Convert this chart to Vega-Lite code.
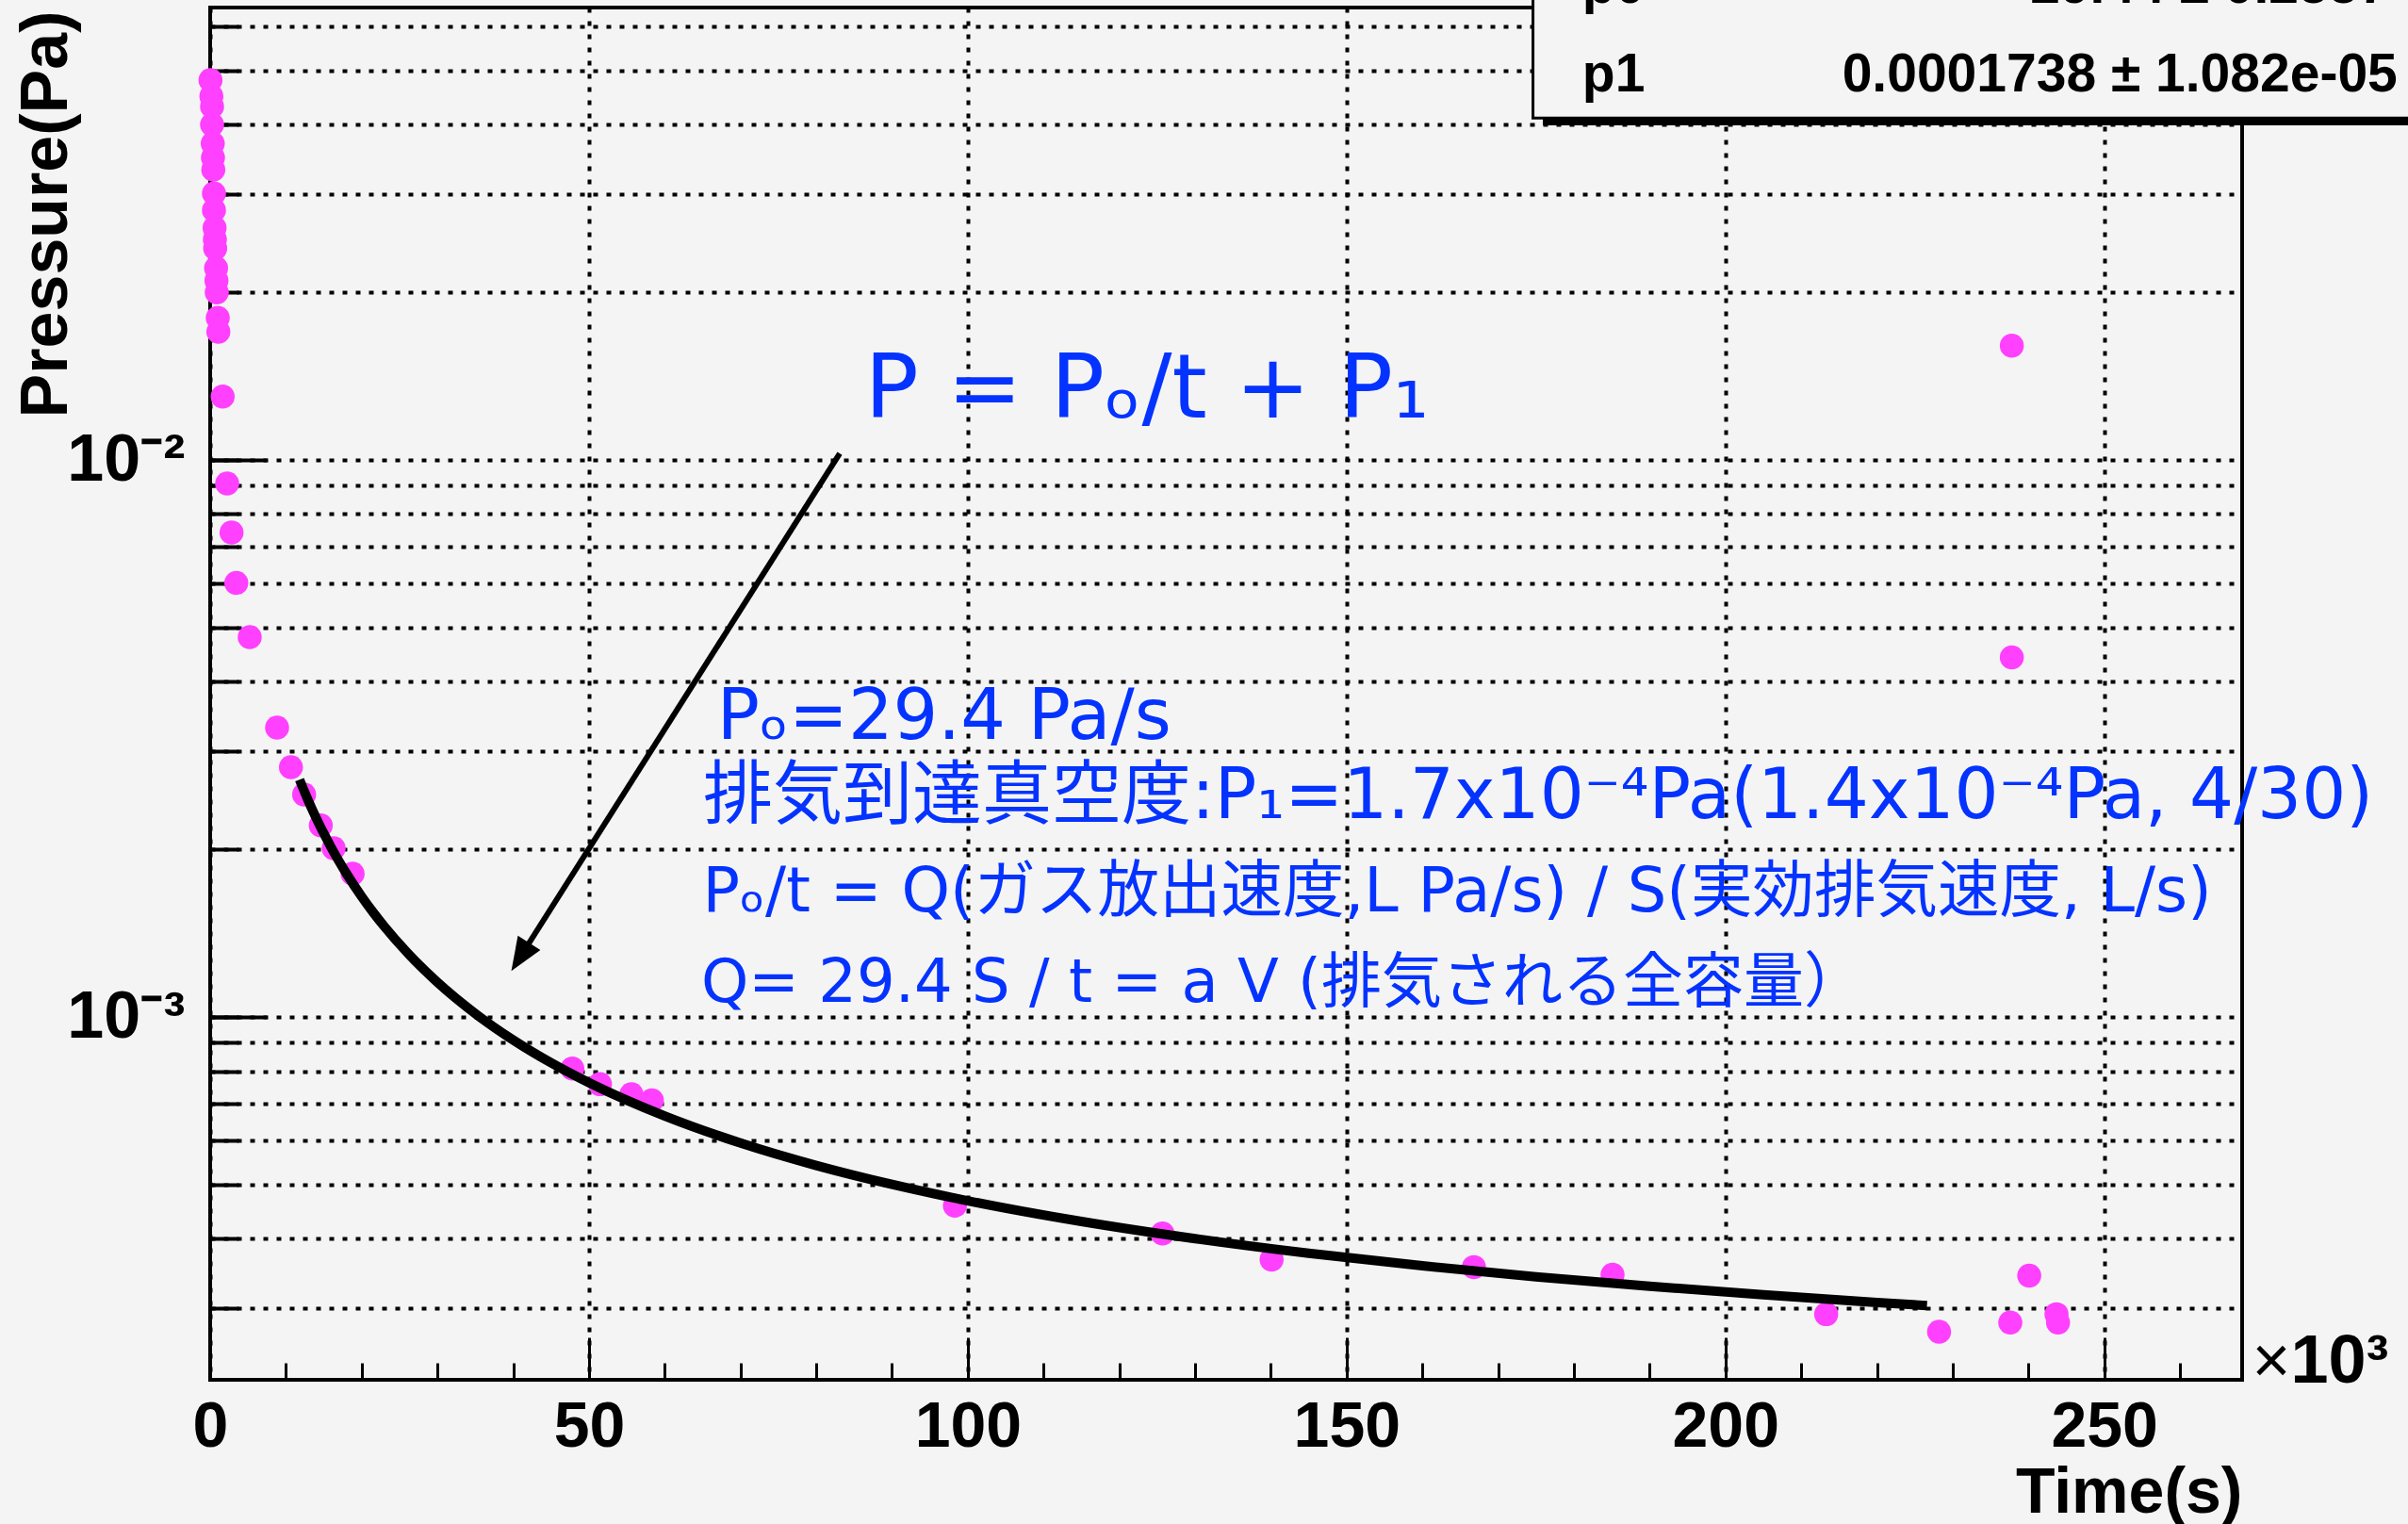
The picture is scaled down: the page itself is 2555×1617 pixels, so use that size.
{
  "$schema": "https://vega.github.io/schema/vega-lite/v6.json",
  "width": 2156,
  "height": 1456,
  "autosize": {"type": "none"},
  "padding": {"left": 223, "top": 8, "right": 176, "bottom": 153},
  "background": "#f4f4f4",
  "config": {
    "view": {"stroke": "#000000", "strokeWidth": 4},
    "axis": {"labelColor": "#000000", "tickColor": "#000000", "titleColor": "#000000", "gridColor": "#000000", "gridOpacity": 1}
  },
  "datasets": {
    "points": [
      {"t": 40, "p": 0.0481}, {"t": 160, "p": 0.0450}, {"t": 250, "p": 0.0431}, {"t": 250, "p": 0.0400},
      {"t": 340, "p": 0.0370}, {"t": 370, "p": 0.0349}, {"t": 410, "p": 0.0332}, {"t": 500, "p": 0.0301},
      {"t": 500, "p": 0.0281}, {"t": 580, "p": 0.0261}, {"t": 620, "p": 0.0249}, {"t": 660, "p": 0.0240},
      {"t": 780, "p": 0.0221}, {"t": 830, "p": 0.0210}, {"t": 870, "p": 0.0200}, {"t": 1000, "p": 0.0180},
      {"t": 1080, "p": 0.0170}, {"t": 1650, "p": 0.0130},
      {"t": 2240, "p": 0.00908}, {"t": 2820, "p": 0.00741}, {"t": 3450, "p": 0.00602}, {"t": 5220, "p": 0.00481},
      {"t": 8830, "p": 0.00331}, {"t": 10660, "p": 0.00281}, {"t": 12400, "p": 0.00251}, {"t": 14600, "p": 0.00221},
      {"t": 16300, "p": 0.00201}, {"t": 18800, "p": 0.00181},
      {"t": 47800, "p": 0.000809}, {"t": 51450, "p": 0.000758}, {"t": 55600, "p": 0.000727}, {"t": 58300, "p": 0.000709},
      {"t": 98300, "p": 0.000459}, {"t": 125700, "p": 0.000409}, {"t": 140100, "p": 0.000367}, {"t": 166800, "p": 0.000356},
      {"t": 185100, "p": 0.000345}, {"t": 213300, "p": 0.000293}, {"t": 228200, "p": 0.0002725}, {"t": 237600, "p": 0.000283},
      {"t": 240100, "p": 0.0003435}, {"t": 243700, "p": 0.000293}, {"t": 243900, "p": 0.000283},
      {"t": 237800, "p": 0.01604}, {"t": 237800, "p": 0.004422}
    ],
    "fit": [
      {"t": 11800, "p": 0.0026687}, {"t": 12500, "p": 0.002529}, {"t": 13000, "p": 0.0024384}, {"t": 14000, "p": 0.0022767},
      {"t": 15000, "p": 0.0021365}, {"t": 16000, "p": 0.0020138}, {"t": 17000, "p": 0.0019056}, {"t": 18000, "p": 0.0018094},
      {"t": 20000, "p": 0.0016458}, {"t": 21500, "p": 0.0015431}, {"t": 23000, "p": 0.0014538}, {"t": 26000, "p": 0.0013061},
      {"t": 30000, "p": 0.0011551}, {"t": 35000, "p": 0.0010149}, {"t": 40000, "p": 0.0009098}, {"t": 45000, "p": 0.000828},
      {"t": 50000, "p": 0.0007626}, {"t": 60000, "p": 0.0006645}, {"t": 70000, "p": 0.0005944}, {"t": 80000, "p": 0.0005418},
      {"t": 90000, "p": 0.0005009}, {"t": 100000, "p": 0.0004682}, {"t": 115000, "p": 0.0004298}, {"t": 130000, "p": 0.0004003},
      {"t": 145000, "p": 0.0003768}, {"t": 160000, "p": 0.0003578}, {"t": 175000, "p": 0.000342}, {"t": 190000, "p": 0.0003288},
      {"t": 205000, "p": 0.0003174}, {"t": 220000, "p": 0.0003076}, {"t": 226600, "p": 0.0003037}
    ],
    "anchor": [{}]
  },
  "resolve": {"axis": {"x": "independent", "y": "independent"}},
  "layer": [
    {
      "data": {"name": "points"},
      "mark": {"type": "circle", "size": 650, "color": "#ff40ff", "opacity": 1},
      "encoding": {
        "x": {
          "field": "t", "type": "quantitative",
          "scale": {"type": "linear", "domain": [0, 268200], "nice": false, "zero": false},
          "axis": {
            "orient": "bottom", "values": [0, 50000, 100000, 150000, 200000, 250000],
            "labelExpr": "format(datum.value / 1000, 'd')",
            "ticks": false, "domain": false,
            "grid": true, "gridDash": [5, 9], "gridWidth": 4,
            "labelFont": "Liberation Sans", "labelFontWeight": "bold", "labelFontSize": 68,
            "labelPadding": 16, "labelFlush": false, "labelOverlap": false,
            "title": "Time(s)", "titleFont": "Liberation Sans", "titleFontWeight": "bold", "titleFontSize": 68,
            "titleAnchor": "end", "titleAlign": "right", "titleBaseline": "alphabetic", "titleX": 2156, "titleY": 140
          }
        },
        "y": {
          "field": "p", "type": "quantitative",
          "scale": {"type": "log", "domain": [0.0002234, 0.0649], "nice": false},
          "axis": {
            "orient": "left", "values": [0.001, 0.01],
            "labelExpr": "datum.value < 0.005 ? '10⁻³' : '10⁻²'",
            "ticks": false, "domain": false, "grid": false,
            "labelFont": "Liberation Sans", "labelFontWeight": "bold", "labelFontSize": 70,
            "labelPadding": 27, "labelAlign": "right", "labelBaseline": "middle", "labelOverlap": false,
            "title": "Pressure(Pa)", "titleFont": "Liberation Sans", "titleFontWeight": "bold", "titleFontSize": 70,
            "titleAngle": 270, "titleAlign": "right", "titleBaseline": "alphabetic", "titleX": -153, "titleY": 3
          }
        }
      }
    },
    {
      "data": {"name": "fit"},
      "mark": {"type": "line", "color": "#000000", "strokeWidth": 10, "interpolate": "monotone", "strokeCap": "butt"},
      "encoding": {
        "x": {
          "field": "t", "type": "quantitative",
          "scale": {"type": "linear", "domain": [0, 268200], "nice": false, "zero": false},
          "axis": {
            "orient": "bottom", "values": [0, 50000, 100000, 150000, 200000, 250000],
            "labels": false, "domain": false, "grid": false,
            "ticks": true, "tickSize": -45, "tickWidth": 3, "title": null
          }
        },
        "y": {
          "field": "p", "type": "quantitative",
          "scale": {"type": "log", "domain": [0.0002234, 0.0649], "nice": false},
          "axis": {
            "orient": "left",
            "values": [0.0003, 0.0004, 0.0005, 0.0006, 0.0007, 0.0008, 0.0009, 0.001, 0.002, 0.003, 0.004, 0.005, 0.006, 0.007, 0.008, 0.009, 0.01, 0.02, 0.03, 0.04, 0.05, 0.06],
            "labels": false, "domain": false,
            "grid": true, "gridDash": [5, 9], "gridWidth": 4,
            "ticks": true, "tickSize": -30, "tickWidth": 4, "title": null
          }
        }
      }
    },
    {
      "data": {"name": "anchor"},
      "mark": {"type": "rule", "color": "#000000", "strokeWidth": 6},
      "encoding": {
        "x": {
          "datum": 83100, "type": "quantitative",
          "scale": {"type": "linear", "domain": [0, 268200], "nice": false, "zero": false},
          "axis": {
            "orient": "bottom",
            "values": [10000, 20000, 30000, 40000, 60000, 70000, 80000, 90000, 110000, 120000, 130000, 140000, 160000, 170000, 180000, 190000, 210000, 220000, 230000, 240000, 260000],
            "labels": false, "domain": false, "grid": false,
            "ticks": true, "tickSize": -18, "tickWidth": 3, "title": null
          }
        },
        "y": {
          "datum": 0.01028, "type": "quantitative",
          "scale": {"type": "log", "domain": [0.0002234, 0.0649], "nice": false},
          "axis": {
            "orient": "left", "values": [0.001, 0.01],
            "labels": false, "domain": false, "grid": false,
            "ticks": true, "tickSize": -60, "tickWidth": 4, "title": null
          }
        },
        "x2": {"datum": 40750},
        "y2": {"datum": 0.0012718}
      }
    },
    {
      "data": {"name": "anchor"},
      "mark": {"type": "point", "shape": "M0,0L0.4,1L-0.4,1Z", "size": 5000, "angle": 212.3, "filled": true, "color": "#000000", "opacity": 1},
      "encoding": {
        "x": {"datum": 39750, "type": "quantitative", "axis": null},
        "y": {"datum": 0.00121, "type": "quantitative", "axis": null}
      }
    },
    {
      "data": {"name": "anchor"},
      "mark": {"type": "text", "text": "P = Pₒ/t + P₁", "font": "'DejaVu Sans', 'Noto Sans CJK JP'", "fontSize": 95, "color": "#0433ff", "align": "left", "baseline": "alphabetic"},
      "encoding": {
        "x": {"datum": 86400, "type": "quantitative", "axis": null},
        "y": {"datum": 0.011917, "type": "quantitative", "axis": null}
      }
    },
    {
      "data": {"name": "anchor"},
      "mark": {"type": "text", "text": "Pₒ=29.4 Pa/s", "font": "'DejaVu Sans', 'Noto Sans CJK JP'", "fontSize": 75, "color": "#0433ff", "align": "left", "baseline": "alphabetic"},
      "encoding": {
        "x": {"datum": 66900, "type": "quantitative", "axis": null},
        "y": {"datum": 0.003157, "type": "quantitative", "axis": null}
      }
    },
    {
      "data": {"name": "anchor"},
      "mark": {"type": "text", "text": "排気到達真空度:P₁=1.7x10⁻⁴Pa(1.4x10⁻⁴Pa, 4/30)", "font": "'DejaVu Sans', 'Noto Sans CJK JP'", "fontSize": 74, "color": "#0433ff", "align": "left", "baseline": "alphabetic"},
      "encoding": {
        "x": {"datum": 65050, "type": "quantitative", "axis": null},
        "y": {"datum": 0.002275, "type": "quantitative", "axis": null}
      }
    },
    {
      "data": {"name": "anchor"},
      "mark": {"type": "text", "text": "Pₒ/t = Q(ガス放出速度,L Pa/s) / S(実効排気速度, L/s)", "font": "'DejaVu Sans', 'Noto Sans CJK JP'", "fontSize": 65.5, "color": "#0433ff", "align": "left", "baseline": "alphabetic"},
      "encoding": {
        "x": {"datum": 65000, "type": "quantitative", "axis": null},
        "y": {"datum": 0.0015467, "type": "quantitative", "axis": null}
      }
    },
    {
      "data": {"name": "anchor"},
      "mark": {"type": "text", "text": "Q= 29.4 S / t = a V (排気される全容量）", "font": "'DejaVu Sans', 'Noto Sans CJK JP'", "fontSize": 64, "color": "#0433ff", "align": "left", "baseline": "alphabetic"},
      "encoding": {
        "x": {"datum": 64800, "type": "quantitative", "axis": null},
        "y": {"datum": 0.0010644, "type": "quantitative", "axis": null}
      }
    },
    {
      "data": {"name": "anchor"},
      "mark": {"type": "rect", "color": "#000000", "opacity": 1},
      "encoding": {
        "x": {"datum": 175900, "type": "quantitative", "axis": null},
        "x2": {"datum": 300000},
        "y": {"datum": 0.5, "type": "quantitative", "axis": null},
        "y2": {"datum": 0.03988}
      }
    },
    {
      "data": {"name": "anchor"},
      "mark": {"type": "rect", "fill": "#f4f4f4", "stroke": "#000000", "strokeWidth": 3, "opacity": 1},
      "encoding": {
        "x": {"datum": 174600, "type": "quantitative", "axis": null},
        "x2": {"datum": 300000},
        "y": {"datum": 0.5, "type": "quantitative", "axis": null},
        "y2": {"datum": 0.04112}
      }
    },
    {
      "data": {"name": "anchor"},
      "mark": {"type": "text", "text": "p0", "font": "Liberation Sans", "fontWeight": "bold", "fontSize": 57, "color": "#000000", "align": "left", "baseline": "alphabetic"},
      "encoding": {
        "x": {"datum": 181100, "type": "quantitative", "axis": null},
        "y": {"datum": 0.06615, "type": "quantitative", "axis": null}
      }
    },
    {
      "data": {"name": "anchor"},
      "mark": {"type": "text", "text": "29.44 ± 0.2557", "font": "Liberation Sans", "fontWeight": "bold", "fontSize": 57, "color": "#000000", "align": "right", "baseline": "alphabetic"},
      "encoding": {
        "x": {"datum": 287500, "type": "quantitative", "axis": null},
        "y": {"datum": 0.06615, "type": "quantitative", "axis": null}
      }
    },
    {
      "data": {"name": "anchor"},
      "mark": {"type": "text", "text": "p1", "font": "Liberation Sans", "fontWeight": "bold", "fontSize": 57, "color": "#000000", "align": "left", "baseline": "alphabetic"},
      "encoding": {
        "x": {"datum": 181100, "type": "quantitative", "axis": null},
        "y": {"datum": 0.04587, "type": "quantitative", "axis": null}
      }
    },
    {
      "data": {"name": "anchor"},
      "mark": {"type": "text", "text": "0.0001738 ± 1.082e-05", "font": "Liberation Sans", "fontWeight": "bold", "fontSize": 57, "color": "#000000", "align": "right", "baseline": "alphabetic"},
      "encoding": {
        "x": {"datum": 288700, "type": "quantitative", "axis": null},
        "y": {"datum": 0.04587, "type": "quantitative", "axis": null}
      }
    },
    {
      "data": {"name": "anchor"},
      "mark": {"type": "text", "text": "×", "font": "Liberation Sans", "fontSize": 70, "color": "#000000", "align": "left", "baseline": "alphabetic"},
      "encoding": {
        "x": {"datum": 269500, "type": "quantitative", "axis": null},
        "y": {"datum": 0.0002206, "type": "quantitative", "axis": null}
      }
    },
    {
      "data": {"name": "anchor"},
      "mark": {"type": "text", "text": "10³", "font": "Liberation Sans", "fontWeight": "bold", "fontSize": 72, "color": "#000000", "align": "left", "baseline": "alphabetic"},
      "encoding": {
        "x": {"datum": 274600, "type": "quantitative", "axis": null},
        "y": {"datum": 0.0002206, "type": "quantitative", "axis": null}
      }
    }
  ]
}
